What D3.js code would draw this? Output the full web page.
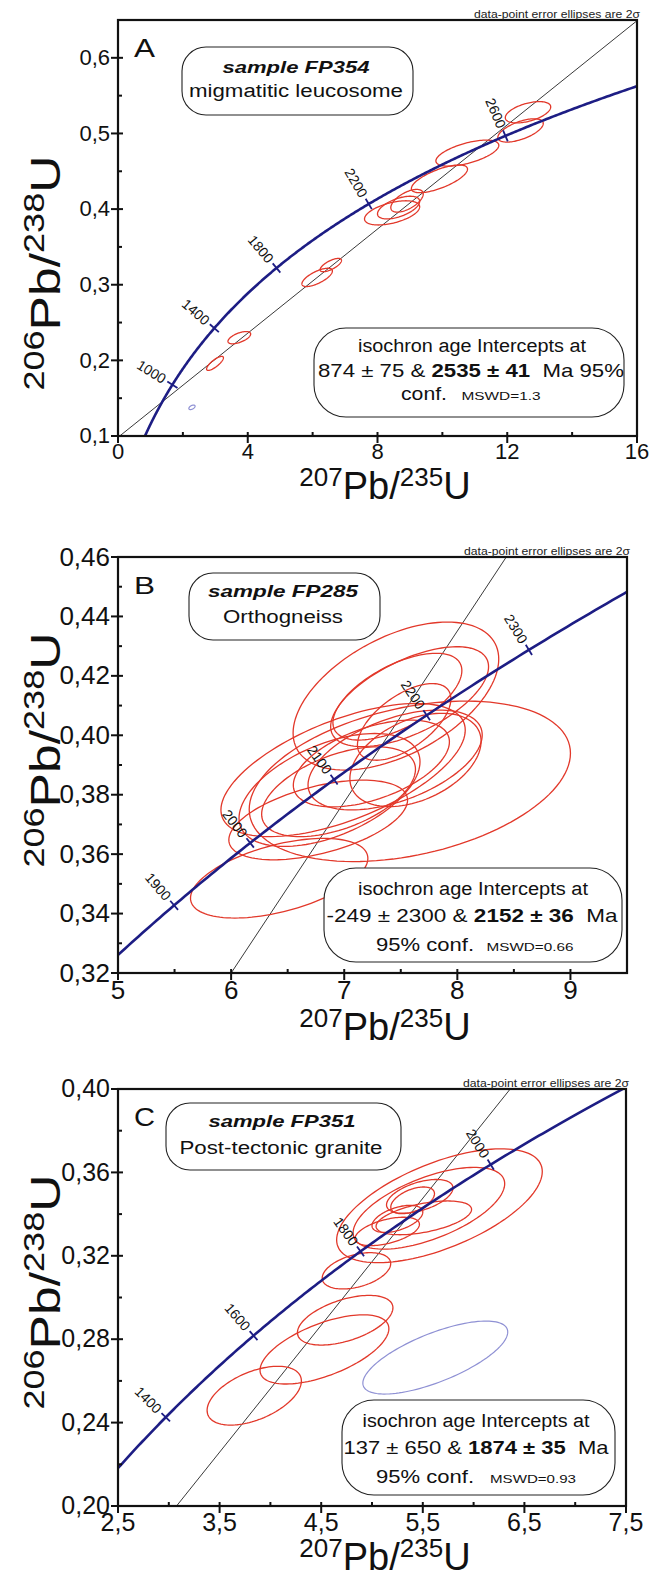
<!DOCTYPE html>
<html><head><meta charset="utf-8">
<script src="https://cdn.jsdelivr.net/npm/d3@7"></script>
<style>
body{margin:0;background:#fff}
text{font-family:"Liberation Sans",Arial,sans-serif;white-space:pre}
</style>
</head><body>
<svg id="chart" width="652" height="1580"></svg>
<script>
// ---------------- DATA ----------------
const lambda238 = 1.55125e-4; // per Ma
const lambda235 = 9.8485e-4;  // per Ma

const panelLetters = ["A", "B", "C"];
const sampleNames = ["sample FP354", "sample FP285", "sample FP351"];
const rockTypes = ["migmatitic leucosome", "Orthogneiss", "Post-tectonic granite"];
const lowerIntercepts = [874, -249, 137];
const lowerErrors = [75, 2300, 650];
const upperIntercepts = [2535, 2152, 1874];
const upperErrors = [41, 36, 35];
const mswdValues = ["1.3", "0.66", "0.93"];
const noteText = "data-point error ellipses are 2\u03c3";

const xDomainA = [0, 16],    yDomainA = [0.1, 0.65];
const xDomainB = [5, 9.5],   yDomainB = [0.32, 0.46];
const xDomainC = [2.5, 7.5], yDomainC = [0.20, 0.40];

const xTicksA = [0, 4, 8, 12, 16];            const xTickLabelsA = ["0", "4", "8", "12", "16"];
const xMinorA = [2, 6, 10, 14];
const yTicksA = [0.1, 0.2, 0.3, 0.4, 0.5, 0.6]; const yTickLabelsA = ["0,1", "0,2", "0,3", "0,4", "0,5", "0,6"];
const yMinorA = [0.15, 0.25, 0.35, 0.45, 0.55, 0.65];

const xTicksB = [5, 6, 7, 8, 9];              const xTickLabelsB = ["5", "6", "7", "8", "9"];
const xMinorB = [5.5, 6.5, 7.5, 8.5, 9.5];
const yTicksB = [0.32, 0.34, 0.36, 0.38, 0.40, 0.42, 0.44, 0.46];
const yTickLabelsB = ["0,32", "0,34", "0,36", "0,38", "0,40", "0,42", "0,44", "0,46"];
const yMinorB = [0.33, 0.35, 0.37, 0.39, 0.41, 0.43, 0.45];

const xTicksC = [2.5, 3.5, 4.5, 5.5, 6.5, 7.5]; const xTickLabelsC = ["2,5", "3,5", "4,5", "5,5", "6,5", "7,5"];
const xMinorC = [3, 4, 5, 6, 7];
const yTicksC = [0.20, 0.24, 0.28, 0.32, 0.36, 0.40];
const yTickLabelsC = ["0,20", "0,24", "0,28", "0,32", "0,36", "0,40"];
const yMinorC = [0.22, 0.26, 0.30, 0.34, 0.38];

const concordiaAgesA = [1000, 1400, 1800, 2200, 2600];
const concordiaAgesB = [1900, 2000, 2100, 2200, 2300];
const concordiaAgesC = [1400, 1600, 1800, 2000];

// ellipses: [207Pb/235U, 2σ, 206Pb/238U, 2σ, rho]
const ellipsesA = [
  [2.99, 0.26, 0.196, 0.0093, 0.8],
  [3.74, 0.35, 0.230, 0.0081, 0.6],
  [6.14, 0.47, 0.3097, 0.0121, 0.7],
  [6.56, 0.33, 0.326, 0.0088, 0.7],
  [8.45, 0.85, 0.395, 0.0160, 0.5],
  [8.65, 0.65, 0.402, 0.0150, 0.55],
  [8.91, 0.50, 0.411, 0.0150, 0.6],
  [9.91, 0.865, 0.440, 0.0183, 0.7],
  [10.77, 0.97, 0.474, 0.0172, 0.6],
  [12.41, 0.70, 0.504, 0.0154, 0.6],
  [12.64, 0.70, 0.528, 0.0141, 0.5]
];
const excludedA = [[2.28, 0.096, 0.1379, 0.003, 0.5]];

const ellipsesB = [
  [6.425, 0.784, 0.3519, 0.0134, 0.5],
  [7.58, 1.42, 0.3845, 0.0270, 0.35],
  [7.457, 0.909, 0.4132, 0.0249, 0.5],
  [7.578, 0.698, 0.413, 0.0168, 0.6],
  [7.47, 0.57, 0.413, 0.0146, 0.6],
  [7.53, 0.413, 0.4045, 0.0129, 0.6],
  [6.99, 1.08, 0.3883, 0.0224, 0.6],
  [6.87, 0.80, 0.3816, 0.019, 0.5],
  [6.95, 0.68, 0.381, 0.0151, 0.5],
  [7.24, 0.69, 0.3905, 0.0146, 0.5],
  [7.45, 0.77, 0.3917, 0.0168, 0.5],
  [7.63, 0.58, 0.3917, 0.0157, 0.4],
  [6.77, 0.79, 0.3715, 0.0134, 0.5]
];
const excludedB = [];

const ellipsesC = [
  [3.841, 0.464, 0.2529, 0.0141, 0.5],
  [4.532, 0.634, 0.2751, 0.0166, 0.6],
  [4.736, 0.47, 0.2891, 0.0119, 0.5],
  [4.847, 0.337, 0.3128, 0.0087, 0.4],
  [5.664, 1.012, 0.344, 0.0273, 0.6],
  [5.56, 0.746, 0.3428, 0.0196, 0.6],
  [5.15, 0.317, 0.3317, 0.0068, 0.5],
  [5.51, 0.47, 0.3382, 0.0081, 0.5],
  [5.47, 0.327, 0.3485, 0.0081, 0.5],
  [5.40, 0.215, 0.3466, 0.0064, 0.5],
  [5.25, 0.25, 0.3377, 0.0065, 0.5]
];
const excludedC = [[5.623, 0.713, 0.2712, 0.0175, 0.7]];

// ---------------- LAYOUT / STYLE ----------------
const layout = [
  {x0:118, x1:637, y0:20, y1:436, tickFont:22, letterFont:25,
   box1:[182,47,231,68,24], s1:[296,73,147,17], s2:[296,97,214,18],
   box2:[314,328,310,89,32], r1:[472,352,228], r2:[471,377,306], r3:[424,400,46], m:[501,400,79], wrap:true,
   xt:[385,499], yt:[60,273]},
  {x0:118, x1:627, y0:557, y1:973, tickFont:26, letterFont:24,
   box1:[189,573,191,67,24], s1:[283,597,150,17], s2:[283,623,120,18],
   box2:[324,868,298,94,32], r1:[473,895,230], r2:[472,922,291], r3:[425,951,98], m:[530,951,87], wrap:false,
   xt:[385,1040], yt:[60,750]},
  {x0:118, x1:626, y0:1089, y1:1506, tickFont:25, letterFont:26,
   box1:[166,1103,235,67,24], s1:[282,1127,147,17], s2:[281,1154,203,18],
   box2:[342,1400,273,95,32], r1:[476,1427,227], r2:[476,1454,265], r3:[425,1483,98], m:[533,1483,86], wrap:false,
   xt:[385,1570], yt:[60,1292]}
];
const colors = {concordia:"#1d1d84", ellipse:"#e2382a", excluded:"#8f91d4", discordia:"#222", frame:"#111"};

const panels = [
  {xd:xDomainA, yd:yDomainA, xt:xTicksA, xl:xTickLabelsA, xm:xMinorA, yt:yTicksA, yl:yTickLabelsA, ym:yMinorA, ages:concordiaAgesA, ell:ellipsesA, exc:excludedA},
  {xd:xDomainB, yd:yDomainB, xt:xTicksB, xl:xTickLabelsB, xm:xMinorB, yt:yTicksB, yl:yTickLabelsB, ym:yMinorB, ages:concordiaAgesB, ell:ellipsesB, exc:excludedB},
  {xd:xDomainC, yd:yDomainC, xt:xTicksC, xl:xTickLabelsC, xm:xMinorC, yt:yTicksC, yl:yTickLabelsC, ym:yMinorC, ages:concordiaAgesC, ell:ellipsesC, exc:excludedC}
];

const svg = d3.select("#chart");
svg.append("rect").attr("width",652).attr("height",1580).attr("fill","#fff");

const conc = t => [Math.expm1(lambda235*t), Math.expm1(lambda238*t)];

panels.forEach((p, i) => {
  const L = layout[i];
  const xs = d3.scaleLinear().domain(p.xd).range([L.x0, L.x1]);
  const ys = d3.scaleLinear().domain(p.yd).range([L.y1, L.y0]);
  const g = svg.append("g");
  const clipId = "clip" + i;
  g.append("clipPath").attr("id", clipId).append("rect")
    .attr("x", L.x0).attr("y", L.y0).attr("width", L.x1 - L.x0).attr("height", L.y1 - L.y0);
  const plot = g.append("g").attr("clip-path", `url(#${clipId})`);

  // discordia through intercepts
  const pa = conc(lowerIntercepts[i]), pb = conc(upperIntercepts[i]);
  const slope = (pb[1]-pa[1])/(pb[0]-pa[0]);
  const xe0 = p.xd[0] - 1, xe1 = p.xd[1] + 1;
  plot.append("line")
    .attr("x1", xs(xe0)).attr("y1", ys(pa[1] + slope*(xe0-pa[0])))
    .attr("x2", xs(xe1)).attr("y2", ys(pa[1] + slope*(xe1-pa[0])))
    .attr("stroke", colors.discordia).attr("stroke-width", 0.9);

  // ellipses
  const ellPath = e => {
    const [cx, ax, cy, ay, r] = e;
    const q = Math.sqrt(1 - r*r);
    const pts = d3.range(0, 2*Math.PI, Math.PI/60).map(t => [xs(cx + ax*Math.cos(t)), ys(cy + ay*(r*Math.cos(t) + q*Math.sin(t)))]);
    return d3.line().curve(d3.curveLinearClosed)(pts);
  };
  plot.selectAll(null).data(p.exc).join("path").attr("d", ellPath)
    .attr("fill","none").attr("stroke", colors.excluded).attr("stroke-width", 1.2);
  plot.selectAll(null).data(p.ell).join("path").attr("d", ellPath)
    .attr("fill","none").attr("stroke", colors.ellipse).attr("stroke-width", 1.3);

  // concordia curve
  const curvePts = d3.range(0, 4600, 5).map(t => { const c = conc(t); return [xs(c[0]), ys(c[1])]; });
  plot.append("path").attr("d", d3.line()(curvePts)).attr("fill","none")
    .attr("stroke", colors.concordia).attr("stroke-width", 2.6);

  // concordia age ticks and labels
  const kx = (L.x1-L.x0)/(p.xd[1]-p.xd[0]), ky = (L.y1-L.y0)/(p.yd[1]-p.yd[0]);
  p.ages.forEach(t => {
    const c = conc(t);
    const px = xs(c[0]), py = ys(c[1]);
    let vx = kx*lambda235*Math.exp(lambda235*t), vy = -ky*lambda238*Math.exp(lambda238*t);
    const n = Math.hypot(vx, vy); vx /= n; vy /= n;
    const dx = -vy, dy = vx; // perpendicular pointing down-right
    g.append("line").attr("x1", px - dx*6).attr("y1", py - dy*6).attr("x2", px + dx*6).attr("y2", py + dy*6)
      .attr("stroke", colors.concordia).attr("stroke-width", 1.8);
    const ang = Math.atan2(dy, dx)*180/Math.PI;
    g.append("text").attr("transform", `translate(${px - dx*9},${py - dy*9}) rotate(${ang})`)
      .attr("text-anchor","end").attr("dominant-baseline","central")
      .attr("font-size", 14).attr("fill","#111").text(t);
  });

  // frame
  g.append("rect").attr("x", L.x0).attr("y", L.y0).attr("width", L.x1-L.x0).attr("height", L.y1-L.y0)
    .attr("fill","none").attr("stroke", colors.frame).attr("stroke-width", 2.2);

  // ticks
  p.xt.forEach((v, k) => {
    g.append("line").attr("x1", xs(v)).attr("x2", xs(v)).attr("y1", L.y1 - 4).attr("y2", L.y1 + 7)
      .attr("stroke", colors.frame).attr("stroke-width", 2);
    g.append("text").attr("x", xs(v)).attr("y", L.y1 + 7 + L.tickFont*0.72)
      .attr("text-anchor","middle").attr("font-size", L.tickFont).attr("fill","#111").text(p.xl[k]);
  });
  p.xm.forEach(v => g.append("line").attr("x1", xs(v)).attr("x2", xs(v)).attr("y1", L.y1 - 4).attr("y2", L.y1)
      .attr("stroke", colors.frame).attr("stroke-width", 2));
  p.yt.forEach((v, k) => {
    g.append("line").attr("x1", L.x0 - 7).attr("x2", L.x0 + 5).attr("y1", ys(v)).attr("y2", ys(v))
      .attr("stroke", colors.frame).attr("stroke-width", 2);
    g.append("text").attr("x", L.x0 - 8).attr("y", ys(v)).attr("dy", "0.33em")
      .attr("text-anchor","end").attr("font-size", L.tickFont).attr("fill","#111").text(p.yl[k]);
  });
  p.ym.forEach(v => g.append("line").attr("x1", L.x0).attr("x2", L.x0 + 4).attr("y1", ys(v)).attr("y2", ys(v))
      .attr("stroke", colors.frame).attr("stroke-width", 2));

  // note text
  g.append("text").attr("x", L.x1 + 3).attr("y", L.y0 - 2.5).attr("text-anchor","end")
    .attr("font-size", 10).attr("fill","#222").attr("textLength", 166).attr("lengthAdjust","spacingAndGlyphs")
    .text(noteText);

  // panel letter
  g.append("text").attr("x", L.x0 + 16).attr("y", L.y0 + 37).attr("font-size", L.letterFont).attr("fill","#111")
    .attr("textLength", 21).attr("lengthAdjust","spacingAndGlyphs").text(panelLetters[i]);

  // sample box
  const b1 = L.box1;
  g.append("rect").attr("x", b1[0]).attr("y", b1[1]).attr("width", b1[2]).attr("height", b1[3]).attr("rx", b1[4])
    .attr("fill","#fff").attr("stroke","#222").attr("stroke-width", 1.1);
  g.append("text").attr("x", L.s1[0]).attr("y", L.s1[1]).attr("text-anchor","middle")
    .attr("font-size", L.s1[3]).attr("font-weight","bold").attr("font-style","italic").attr("fill","#111")
    .attr("textLength", L.s1[2]).attr("lengthAdjust","spacingAndGlyphs").text(sampleNames[i]);
  g.append("text").attr("x", L.s2[0]).attr("y", L.s2[1]).attr("text-anchor","middle")
    .attr("font-size", L.s2[3]).attr("fill","#111")
    .attr("textLength", L.s2[2]).attr("lengthAdjust","spacingAndGlyphs").text(rockTypes[i]);

  // result box
  const b2 = L.box2;
  g.append("rect").attr("x", b2[0]).attr("y", b2[1]).attr("width", b2[2]).attr("height", b2[3]).attr("rx", b2[4])
    .attr("fill","#fff").attr("stroke","#222").attr("stroke-width", 1.1);
  g.append("text").attr("x", L.r1[0]).attr("y", L.r1[1]).attr("text-anchor","middle").attr("font-size", 18)
    .attr("fill","#111").attr("textLength", L.r1[2]).attr("lengthAdjust","spacingAndGlyphs")
    .text("isochron age Intercepts at");
  const t2 = g.append("text").attr("x", L.r2[0]).attr("y", L.r2[1]).attr("text-anchor","middle").attr("font-size", 19)
    .attr("fill","#111").attr("textLength", L.r2[2]).attr("lengthAdjust","spacingAndGlyphs");
  t2.append("tspan").text(`${lowerIntercepts[i]} \u00b1 ${lowerErrors[i]} & `);
  t2.append("tspan").attr("font-weight","bold").text(`${upperIntercepts[i]} \u00b1 ${upperErrors[i]}`);
  t2.append("tspan").text(L.wrap ? "  Ma 95%" : "  Ma");
  g.append("text").attr("x", L.r3[0]).attr("y", L.r3[1]).attr("text-anchor","middle").attr("font-size", 19)
    .attr("fill","#111").attr("textLength", L.r3[2]).attr("lengthAdjust","spacingAndGlyphs")
    .text(L.wrap ? "conf." : "95% conf.");
  g.append("text").attr("x", L.m[0]).attr("y", L.m[1]).attr("text-anchor","middle").attr("font-size", 11)
    .attr("fill","#111").attr("textLength", L.m[2]).attr("lengthAdjust","spacingAndGlyphs")
    .text("MSWD=" + mswdValues[i]);

  // axis titles
  const xt = g.append("text").attr("x", L.xt[0]).attr("y", L.xt[1]).attr("text-anchor","middle")
    .attr("font-size", 38).attr("fill","#111");
  xt.append("tspan").attr("font-size", 26).attr("dy", -13).text("207");
  xt.append("tspan").attr("dy", 13).text("Pb/");
  xt.append("tspan").attr("font-size", 26).attr("dy", -13).text("235");
  xt.append("tspan").attr("dy", 13).text("U");

  const yt = g.append("text").attr("transform", `translate(${L.yt[0]},${L.yt[1]}) rotate(-90)`)
    .attr("text-anchor","middle").attr("font-size", 43).attr("fill","#111")
    .attr("textLength", 235).attr("lengthAdjust","spacingAndGlyphs");
  yt.append("tspan").attr("font-size", 30).attr("dy", -16).text("206");
  yt.append("tspan").attr("dy", 16).text("Pb/");
  yt.append("tspan").attr("font-size", 30).attr("dy", -16).text("238");
  yt.append("tspan").attr("dy", 16).text("U");
});
</script>
</body></html>
